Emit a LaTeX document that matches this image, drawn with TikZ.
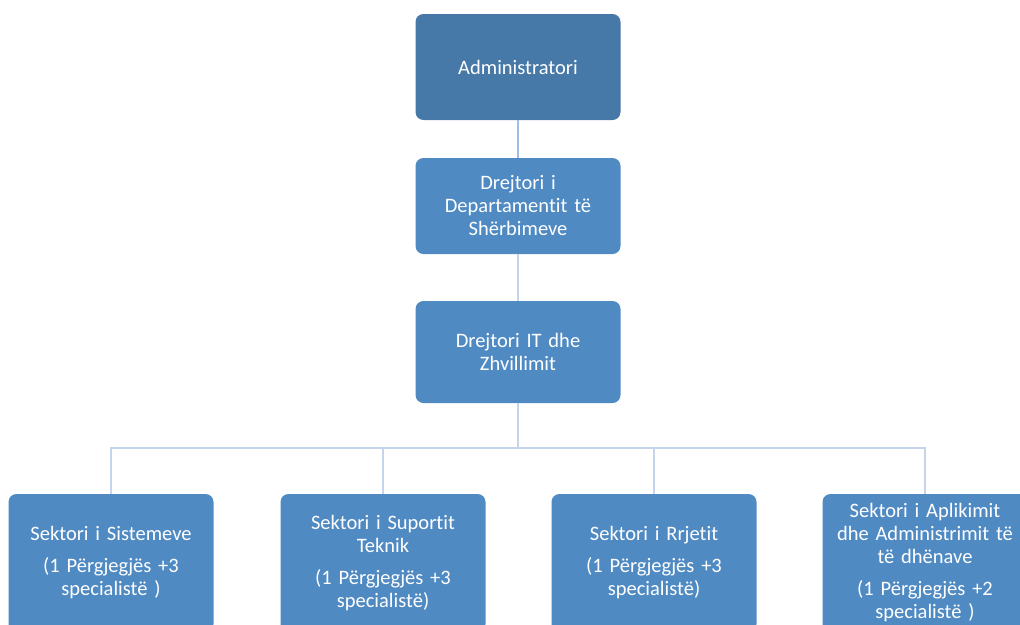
\documentclass[tikz,border=0pt]{standalone}
\usepackage{fontspec}
\setmainfont[Ligatures={NoCommon},RawFeature={-liga;-dlig}]{Carlito}
\definecolor{topfill}{HTML}{4678A8}
\definecolor{boxfill}{HTML}{508AC3}
\definecolor{linkA}{HTML}{9DBDE3}
\definecolor{linkB}{HTML}{C3D4EB}
\begin{document}
\begin{tikzpicture}[x=1pt,y=-1pt,
  orgbox/.style={rectangle,rounded corners=8pt,fill=boxfill,text=white,align=center,
    minimum width=205pt,text width=200pt,inner sep=0pt,
    font=\fontsize{20.5}{23}\selectfont},
  link/.style={draw=linkB,line width=2.6pt},
  toplink/.style={draw=linkA,line width=2.6pt}]
\useasboundingbox (0,0) rectangle (1020,624);
\node[orgbox,fill=topfill,minimum height=106pt] (adm) at (518,67) {Administratori};
\node[orgbox,minimum height=96pt] (dep) at (518,206) {Drejtori i\\Departamentit të\\Shërbimeve};
\node[orgbox,minimum height=102pt] (it) at (518,352) {Drejtori IT dhe\\Zhvillimit};
\node[orgbox,minimum height=138pt] (s1) at (111,563) {Sektori i Sistemeve\\[9pt](1 Përgjegjës +3\\specialistë )};
\node[orgbox,minimum height=138pt] (s2) at (383,563) {Sektori i Suportit\\Teknik\\[9pt](1 Përgjegjës +3\\specialistë)};
\node[orgbox,minimum height=138pt] (s3) at (654,563) {Sektori i Rrjetit\\[9pt](1 Përgjegjës +3\\specialistë)};
\node[orgbox,minimum height=138pt] (s4) at (925,563) {Sektori i Aplikimit\\dhe Administrimit të\\të dhënave\\[9pt](1 Përgjegjës +2\\specialistë )};
\coordinate (bus) at (518,448);
\draw[toplink] (adm.south) -- (dep.north);
\draw[link] (dep.south) -- (it.north);
\draw[link] (it.south) -- (bus);
\draw[link] (s1.north) |- (bus) -| (s4.north);
\draw[link] (s2.north) -- (s2.north |- bus);
\draw[link] (s3.north) -- (s3.north |- bus);
\end{tikzpicture}
\end{document}
